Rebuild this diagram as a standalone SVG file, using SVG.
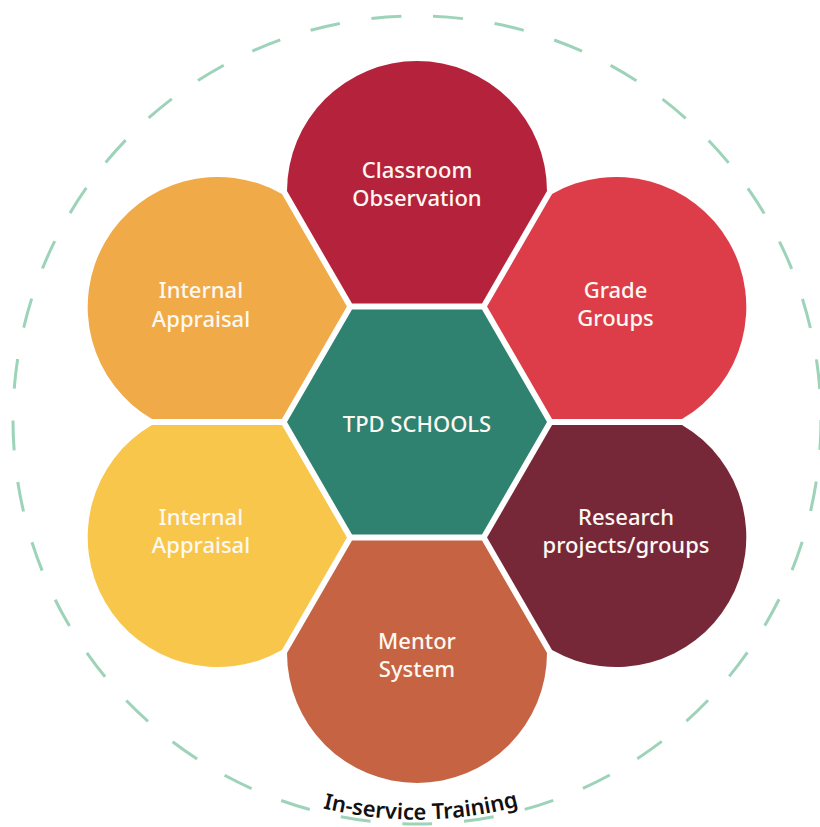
<svg xmlns="http://www.w3.org/2000/svg" width="820" height="827" viewBox="0 0 820 827">
  <style>
    .lbl { font-family: "Noto Sans", "Open Sans", "DejaVu Sans", sans-serif; font-size: 22px; font-weight: 550; fill: #fdf8f2; text-anchor: middle; }
    .ring { fill: none; stroke: #9dd3b9; stroke-width: 3; stroke-dasharray: 30 31.91; }
    .ringtxt { font-family: "Noto Sans", "Open Sans", "DejaVu Sans", sans-serif; font-size: 22px; font-weight: 600; fill: #111111; text-anchor: middle; }
  </style>
  <defs>
    <path id="ringPath" d="M45.7,555.4 A393,393 0 0 0 788.3,555.4"/>
  </defs>
  <rect width="820" height="827" fill="#ffffff"/>

  <g id="ring">
    <circle class="ring" cx="417" cy="420" r="404"/>
    <text class="ringtxt" text-anchor="middle"><textPath href="#ringPath" startOffset="50.4%">In-service Training</textPath></text>
  </g>

  <g id="classroom-observation">
    <path d="M287,191 L352,303.58 L482,303.58 L547,191 A130,130 0 0 0 287,191 Z" fill="#b5223b"/>
    <text class="lbl" x="417" y="178">Classroom</text>
    <text class="lbl" x="417" y="206">Observation</text>
  </g>

  <g id="grade-groups">
    <path d="M552.05,193.92 L487.05,306.5 L552.05,419.08 L682.05,419.08 A130,130 0 0 0 552.05,193.92 Z" fill="#dd3d48"/>
    <text class="lbl" x="615.5" y="298">Grade</text>
    <text class="lbl" x="615.5" y="326">Groups</text>
  </g>

  <g id="research-projects">
    <path d="M682.05,424.92 L552.05,424.92 L487.05,537.5 L552.05,650.08 A130,130 0 0 0 682.05,424.92 Z" fill="#772838"/>
    <text class="lbl" x="626" y="525">Research</text>
    <text class="lbl" x="626" y="553">projects/groups</text>
  </g>

  <g id="mentor-system">
    <path d="M547,653 L482,540.42 L352,540.42 L287,653 A130,130 0 0 0 547,653 Z" fill="#c56343"/>
    <text class="lbl" x="417" y="649">Mentor</text>
    <text class="lbl" x="417" y="677">System</text>
  </g>

  <g id="internal-appraisal-lower">
    <path d="M281.95,650.08 L346.95,537.5 L281.95,424.92 L151.95,424.92 A130,130 0 0 0 281.95,650.08 Z" fill="#f7c64b"/>
    <text class="lbl" x="201" y="525">Internal</text>
    <text class="lbl" x="201" y="553">Appraisal</text>
  </g>

  <g id="internal-appraisal-upper">
    <path d="M151.95,419.08 L281.95,419.08 L346.95,306.5 L281.95,193.92 A130,130 0 0 0 151.95,419.08 Z" fill="#f0aa48"/>
    <text class="lbl" x="201" y="298">Internal</text>
    <text class="lbl" x="201" y="326.5">Appraisal</text>
  </g>

  <g id="tpd-schools">
    <path d="M547,422 L482,534.58 L352,534.58 L287,422 L352,309.42 L482,309.42 Z" fill="#2f8170"/>
    <text class="lbl" x="417" y="432">TPD SCHOOLS</text>
  </g>

  <g id="connectors"/>
</svg>
